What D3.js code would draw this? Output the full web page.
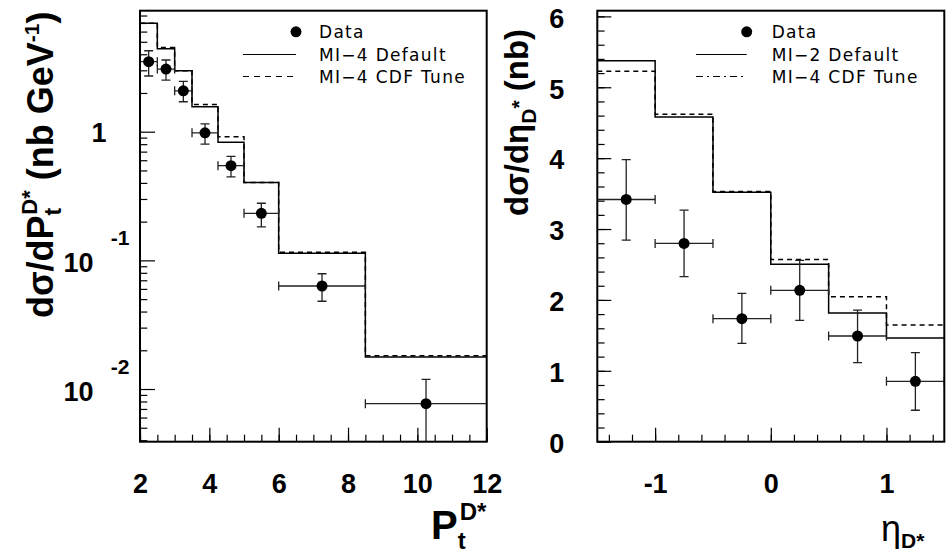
<!DOCTYPE html>
<html>
<head>
<meta charset="utf-8">
<script src="https://cdn.jsdelivr.net/npm/d3@7"></script>
<style>
  html, body { margin: 0; padding: 0; background: #fff; }
  svg { display: block; }
  .tl { font-family: "Liberation Sans", Arial, sans-serif; font-weight: bold; font-size: 27px; fill: #000; }
  .leg { font-family: "DejaVu Sans", sans-serif; font-size: 17px; letter-spacing: 1.3px; fill: #000; }
</style>
</head>
<body>
<svg id="c" width="946" height="556"></svg>
<script>
// ---------- data: left panel (Pt of D*) ----------
const ptEdges   = [2, 2.5, 3, 3.5, 4.25, 5, 6, 8.5, 12];
const ptData    = [3.50, 3.07, 2.08, 0.98, 0.544, 0.232, 0.0632, 0.00769];
const ptErrHi   = [4.26, 3.61, 2.46, 1.15, 0.644, 0.278, 0.0787, 0.0119];
const ptErrLo   = [2.71, 2.52, 1.71, 0.80, 0.445, 0.182, 0.0481, 0.001];
const ptDefault = [6.96, 4.41, 2.98, 1.56, 0.828, 0.402, 0.1135, 0.01775];
const ptCDF     = [6.96, 4.52, 2.98, 1.63, 0.914, 0.402, 0.1155, 0.0181];
const ptTicks   = [2, 4, 6, 8, 10, 12];
const ptDecades = [0.01, 0.1, 1];

// ---------- data: right panel (eta of D*) ----------
const etaEdges   = [-1.5, -1, -0.5, 0, 0.5, 1, 1.5];
const etaData    = [3.417, 2.797, 1.736, 2.135, 1.491, 0.852];
const etaErrHi   = [3.98, 3.266, 2.092, 2.557, 1.857, 1.257];
const etaErrLo   = [2.843, 2.328, 1.388, 1.712, 1.116, 0.444];
const etaDefault = [5.375, 4.58, 3.52, 2.505, 1.815, 1.463];
const etaCDF     = [5.225, 4.62, 3.53, 2.57, 2.046, 1.646];
const etaTicks   = [-1, 0, 1];
const etaYTicks  = [0, 1, 2, 3, 4, 5, 6];

const leftLegend  = ["Data", "MI\u22124 Default", "MI\u22124 CDF Tune"];
const rightLegend = ["Data", "MI\u22122 Default", "MI\u22124 CDF Tune"];

const svg = d3.select("#c");
const yTop = 10.7, yBot = 441.7;

const L = { x0: 140, x1: 486.7 };
const R = { x0: 597.3, x1: 944.3 };

const xL = d3.scaleLinear().domain([2, 12]).range([L.x0, L.x1]);
const yL = d3.scaleLog().domain([0.003895, 8.72]).range([yBot, yTop]);
const xR = d3.scaleLinear().domain([-1.5, 1.5]).range([R.x0, R.x1]);
const yR = d3.scaleLinear().domain([0, 6.08]).range([yBot, yTop]);

const fmtInt = d => String(Math.round(d)); // plain hyphen-minus like the original

function clip(id, P) {
  svg.append("clipPath").attr("id", id).append("rect")
    .attr("x", P.x0).attr("y", yTop).attr("width", P.x1 - P.x0).attr("height", yBot - yTop);
}
clip("clipL", L); clip("clipR", R);

function hist(g, edges, vals, x, y, dash) {
  const pts = vals.map((v, i) => [edges[i], v]);
  pts.push([edges[edges.length - 1], vals[vals.length - 1]]);
  const line = d3.line().x(d => x(d[0])).y(d => y(d[1])).curve(d3.curveStepAfter);
  g.append("path").attr("d", line(pts)).attr("fill", "none")
    .attr("stroke", "#000").attr("stroke-width", 1.5)
    .attr("stroke-dasharray", dash || null);
}

function points(g, edges, vals, hi, lo, x, y) {
  const cap = 4.5, ec = "#222";
  vals.forEach((v, i) => {
    const xa = x(edges[i]), xb = x(edges[i + 1]), xc = x((edges[i] + edges[i + 1]) / 2);
    const yc = y(v), yh = y(hi[i]), yl = y(lo[i]);
    const e = g.append("g").attr("stroke", ec).attr("stroke-width", 1.3).attr("fill", "none");
    e.append("line").attr("x1", xa).attr("x2", xb).attr("y1", yc).attr("y2", yc);
    e.append("line").attr("x1", xa).attr("x2", xa).attr("y1", yc - cap).attr("y2", yc + cap);
    e.append("line").attr("x1", xb).attr("x2", xb).attr("y1", yc - cap).attr("y2", yc + cap);
    e.append("line").attr("x1", xc).attr("x2", xc).attr("y1", yh).attr("y2", yl);
    e.append("line").attr("x1", xc - cap).attr("x2", xc + cap).attr("y1", yh).attr("y2", yh);
    e.append("line").attr("x1", xc - cap).attr("x2", xc + cap).attr("y1", yl).attr("y2", yl);
    g.append("circle").attr("cx", xc).attr("cy", yc).attr("r", 5.5).attr("fill", "#000");
  });
}

function tickStyle(g) {
  g.select(".domain").remove();
  g.selectAll(".tick line").attr("stroke", "#000").attr("stroke-width", 1.2);
}

// ===== LEFT PANEL =====
const gL = svg.append("g");
const pL = gL.append("g").attr("clip-path", "url(#clipL)");
hist(pL, ptEdges, ptDefault, xL, yL, null);
hist(pL, ptEdges, ptCDF, xL, yL, "5,4");
points(pL, ptEdges, ptData, ptErrHi, ptErrLo, xL, yL);

// x ticks
const ptMinor = d3.range(2, 12.01, 0.5);
gL.append("g").attr("transform", `translate(0,${yBot})`)
  .call(d3.axisBottom(xL).tickValues(ptMinor).tickSize(-7).tickFormat(""))
  .call(tickStyle);
gL.append("g").attr("transform", `translate(0,${yBot})`)
  .call(d3.axisBottom(xL).tickValues(ptTicks).tickSize(-14).tickPadding(32).tickFormat(fmtInt))
  .call(tickStyle)
  .call(g => g.selectAll("text").attr("class", "tl").attr("font-size", null).attr("font-family", null));

// y ticks (log)
const logMinor = [];
[0.001, 0.01, 0.1, 1].forEach(d => { for (let k = 2; k <= 9; k++) { const v = d * k; if (v > yL.domain()[0] && v < yL.domain()[1]) logMinor.push(v); } });
gL.append("g").attr("transform", `translate(${L.x0},0)`)
  .call(d3.axisLeft(yL).tickValues(logMinor).tickSize(-7.3).tickFormat(""))
  .call(tickStyle);
gL.append("g").attr("transform", `translate(${L.x0},0)`)
  .call(d3.axisLeft(yL).tickValues(ptDecades).tickSize(-15).tickFormat(""))
  .call(tickStyle);
// log labels
ptDecades.forEach(d => {
  const yy = yL(d);
  if (d === 1) {
    svg.append("text").attr("class", "tl").attr("x", 99).attr("y", yy + 10).attr("text-anchor", "middle").text("1");
  } else {
    const ex = Math.round(Math.log10(d));
    svg.append("text").attr("class", "tl").attr("x", 78.5).attr("y", yy + 11.5).attr("text-anchor", "middle").text("10");
    svg.append("text").attr("class", "tl").attr("x", 120).attr("y", yy - 15.5).attr("text-anchor", "middle")
      .style("font-size", "21px").text(String(ex));
  }
});

// frame
gL.append("rect").attr("x", L.x0).attr("y", yTop).attr("width", L.x1 - L.x0).attr("height", yBot - yTop)
  .attr("fill", "none").attr("stroke", "#000").attr("stroke-width", 2);

// ===== RIGHT PANEL =====
const gR = svg.append("g");
const pR = gR.append("g").attr("clip-path", "url(#clipR)");
hist(pR, etaEdges, etaDefault, xR, yR, null);
hist(pR, etaEdges, etaCDF, xR, yR, "5,4");
points(pR, etaEdges, etaData, etaErrHi, etaErrLo, xR, yR);

const etaMinor = d3.range(-1.4, 1.41, 0.2).map(v => Math.round(v * 10) / 10);
gR.append("g").attr("transform", `translate(0,${yBot})`)
  .call(d3.axisBottom(xR).tickValues(etaMinor).tickSize(-7).tickFormat(""))
  .call(tickStyle);
gR.append("g").attr("transform", `translate(0,${yBot})`)
  .call(d3.axisBottom(xR).tickValues(etaTicks).tickSize(-14).tickPadding(32).tickFormat(fmtInt))
  .call(tickStyle)
  .call(g => g.selectAll("text").attr("class", "tl").attr("font-size", null).attr("font-family", null));

const etaYMinor = d3.range(0.2, 6.01, 0.2).map(v => Math.round(v * 10) / 10);
gR.append("g").attr("transform", `translate(${R.x0},0)`)
  .call(d3.axisLeft(yR).tickValues(etaYMinor).tickSize(-7.3).tickFormat(""))
  .call(tickStyle);
gR.append("g").attr("transform", `translate(${R.x0},0)`)
  .call(d3.axisLeft(yR).tickValues(etaYTicks).tickSize(-14).tickPadding(33).tickFormat(fmtInt))
  .call(tickStyle)
  .call(g => g.selectAll("text").attr("class", "tl").attr("font-size", null).attr("font-family", null).attr("dy", "0.4em"));

gR.append("rect").attr("x", R.x0).attr("y", yTop).attr("width", R.x1 - R.x0).attr("height", yBot - yTop)
  .attr("fill", "none").attr("stroke", "#000").attr("stroke-width", 2);

// ===== LEGENDS =====
function legend(lx0, lx1, tx, labels, dash2) {
  const rows = [31.8, 54.5, 76.5];
  svg.append("circle").attr("cx", lx1).attr("cy", rows[0]).attr("r", 5.5).attr("fill", "#000");
  svg.append("line").attr("x1", lx0).attr("x2", lx1).attr("y1", rows[1]).attr("y2", rows[1])
    .attr("stroke", "#000").attr("stroke-width", 1.2);
  svg.append("line").attr("x1", lx0).attr("x2", lx1).attr("y1", rows[2]).attr("y2", rows[2])
    .attr("stroke", "#000").attr("stroke-width", 1.2).attr("stroke-dasharray", dash2);
  labels.forEach((t, i) => {
    svg.append("text").attr("class", "leg").attr("x", tx).attr("y", rows[i] + 6.5).text(t);
  });
}
legend(243, 296, 319, leftLegend, "6,5");
legend(696, 746.7, 771.7, rightLegend, "7,4,2,4");

// ===== AXIS TITLES =====
const tf = "'Liberation Sans', Arial, sans-serif";
// left y title
const ytL = svg.append("text").attr("transform", "translate(53,318) rotate(-90)")
  .attr("font-family", tf).attr("font-weight", "bold").attr("font-size", 36).attr("fill", "#000");
ytL.append("tspan").text("d\u03c3/dP");
ytL.append("tspan").attr("font-size", 23).attr("dy", 8).text("t");
ytL.append("tspan").attr("font-size", 22).attr("dx", -7).attr("dy", -24).text("D*");
ytL.append("tspan").attr("dy", 16).text(" (nb GeV");
ytL.append("tspan").attr("font-size", 21).attr("dy", -14).text("-1");
ytL.append("tspan").attr("dy", 14).text(")");

// right y title
const ytR = svg.append("text").attr("transform", "translate(528,216) rotate(-90)")
  .attr("font-family", tf).attr("font-weight", "bold").attr("font-size", 33).attr("fill", "#000");
ytR.append("tspan").text("d\u03c3/d\u03b7");
ytR.append("tspan").attr("font-size", 21).attr("dy", 8).text("D");
ytR.append("tspan").attr("font-size", 21).attr("dy", -10).text("*");
ytR.append("tspan").attr("dy", 2).text(" (nb)");

// left x title
const xtL = svg.append("text").attr("x", 431).attr("y", 539)
  .attr("font-family", tf).attr("font-weight", "bold").attr("font-size", 40).attr("fill", "#000");
xtL.append("tspan").text("P");
xtL.append("tspan").attr("font-size", 24).attr("dy", 10).text("t");
xtL.append("tspan").attr("font-size", 24).attr("dx", -6).attr("dy", -29).text("D*");

// right x title
const xtR = svg.append("text").attr("x", 881).attr("y", 541)
  .attr("font-family", tf).attr("font-size", 36).attr("fill", "#000");
xtR.append("tspan").text("\u03b7");
xtR.append("tspan").attr("font-weight", "bold").attr("font-size", 21).attr("dy", 7).text("D*");
</script>
</body>
</html>
